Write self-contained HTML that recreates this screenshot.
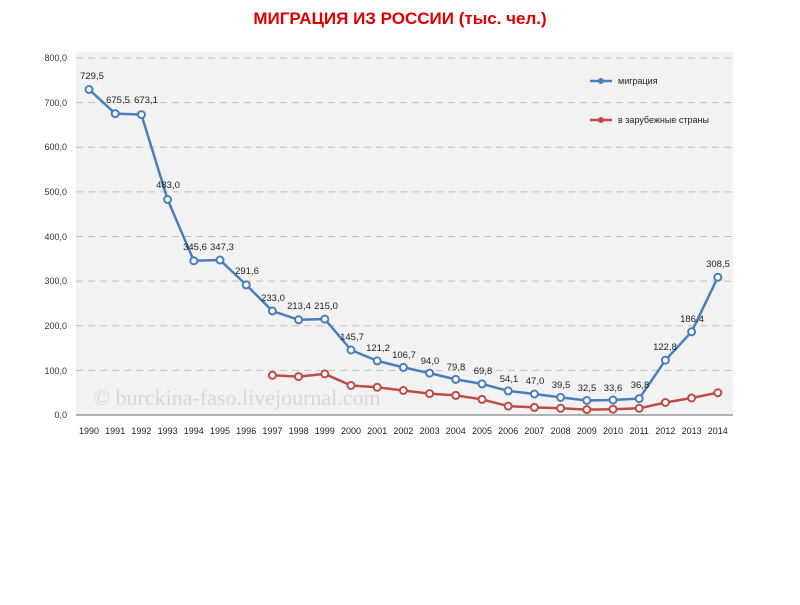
<!DOCTYPE html>
<html><head><meta charset="utf-8"><style>
body{margin:0;background:#fff;width:800px;height:600px;overflow:hidden;font-family:"Liberation Sans",sans-serif}
</style></head><body>
<svg width="800" height="600" xmlns="http://www.w3.org/2000/svg" font-family="Liberation Sans, sans-serif">
<text x="400" y="24" text-anchor="middle" font-size="17" font-weight="bold" fill="#e00000">МИГРАЦИЯ ИЗ РОССИИ (тыс. чел.)</text>
<rect x="76" y="52" width="657" height="363" fill="#f2f2f2"/>
<g stroke="#c0c0c0" stroke-dasharray="7,5" stroke-width="1">
<line x1="76" x2="733" y1="58" y2="58"/><line x1="76" x2="733" y1="102.6" y2="102.6"/>
<line x1="76" x2="733" y1="147.3" y2="147.3"/><line x1="76" x2="733" y1="191.9" y2="191.9"/>
<line x1="76" x2="733" y1="236.5" y2="236.5"/><line x1="76" x2="733" y1="281.1" y2="281.1"/>
<line x1="76" x2="733" y1="325.8" y2="325.8"/><line x1="76" x2="733" y1="370.4" y2="370.4"/>
</g>
<line x1="76" x2="733" y1="415" y2="415" stroke="#999" stroke-width="1.5"/>
<g font-size="9" fill="#333" text-anchor="end">
<text x="67" y="61">800,0</text><text x="67" y="106">700,0</text><text x="67" y="150">600,0</text>
<text x="67" y="195">500,0</text><text x="67" y="240">400,0</text><text x="67" y="284">300,0</text>
<text x="67" y="329">200,0</text><text x="67" y="374">100,0</text><text x="67" y="418">0,0</text>
</g>
<text x="237" y="405" text-anchor="middle" font-family="Liberation Serif, serif" font-size="22" fill="#d8d8d8">© burckina-faso.livejournal.com</text>
<g font-size="9" fill="#222" text-anchor="middle">
<text x="89" y="434">1990</text><text x="115.2" y="434">1991</text><text x="141.4" y="434">1992</text><text x="167.6" y="434">1993</text><text x="193.8" y="434">1994</text><text x="220" y="434">1995</text><text x="246.2" y="434">1996</text><text x="272.4" y="434">1997</text><text x="298.6" y="434">1998</text><text x="324.8" y="434">1999</text><text x="351" y="434">2000</text><text x="377.2" y="434">2001</text><text x="403.4" y="434">2002</text><text x="429.6" y="434">2003</text><text x="455.8" y="434">2004</text><text x="482" y="434">2005</text><text x="508.2" y="434">2006</text><text x="534.4" y="434">2007</text><text x="560.6" y="434">2008</text><text x="586.8" y="434">2009</text><text x="613" y="434">2010</text><text x="639.2" y="434">2011</text><text x="665.4" y="434">2012</text><text x="691.6" y="434">2013</text><text x="717.8" y="434">2014</text>
</g>
<polyline fill="none" stroke="#4a7ebb" stroke-width="2.5" stroke-linejoin="round" points="89,89.5 115.2,113.6 141.4,114.6 167.6,199.5 193.8,260.8 220,260 246.2,284.9 272.4,311 298.6,319.8 324.8,319.1 351,350 377.2,360.9 403.4,367.4 429.6,373.1 455.8,379.4 482,383.9 508.2,390.9 534.4,394 560.6,397.4 586.8,400.5 613,400 639.2,398.6 665.4,360.2 691.6,331.8 717.8,277.3"/>
<g fill="#fff" stroke="#4a7ebb" stroke-width="2">
<circle cx="89" cy="89.5" r="3.5"/><circle cx="115.2" cy="113.6" r="3.5"/><circle cx="141.4" cy="114.6" r="3.5"/><circle cx="167.6" cy="199.5" r="3.5"/><circle cx="193.8" cy="260.8" r="3.5"/><circle cx="220" cy="260" r="3.5"/><circle cx="246.2" cy="284.9" r="3.5"/><circle cx="272.4" cy="311" r="3.5"/><circle cx="298.6" cy="319.8" r="3.5"/><circle cx="324.8" cy="319.1" r="3.5"/><circle cx="351" cy="350" r="3.5"/><circle cx="377.2" cy="360.9" r="3.5"/><circle cx="403.4" cy="367.4" r="3.5"/><circle cx="429.6" cy="373.1" r="3.5"/><circle cx="455.8" cy="379.4" r="3.5"/><circle cx="482" cy="383.9" r="3.5"/><circle cx="508.2" cy="390.9" r="3.5"/><circle cx="534.4" cy="394" r="3.5"/><circle cx="560.6" cy="397.4" r="3.5"/><circle cx="586.8" cy="400.5" r="3.5"/><circle cx="613" cy="400" r="3.5"/><circle cx="639.2" cy="398.6" r="3.5"/><circle cx="665.4" cy="360.2" r="3.5"/><circle cx="691.6" cy="331.8" r="3.5"/><circle cx="717.8" cy="277.3" r="3.5"/>
</g>
<polyline fill="none" stroke="#be4b48" stroke-width="2.5" stroke-linejoin="round" points="272.4,375.3 298.6,376.6 324.8,373.9 351,385.5 377.2,387.3 403.4,390.5 429.6,393.6 455.8,395.4 482,399.4 508.2,406.1 534.4,407.4 560.6,408.3 586.8,409.6 613,409.2 639.2,408.3 665.4,402.5 691.6,398 717.8,392.7"/>
<g fill="#fff" stroke="#be4b48" stroke-width="2">
<circle cx="272.4" cy="375.3" r="3.5"/><circle cx="298.6" cy="376.6" r="3.5"/><circle cx="324.8" cy="373.9" r="3.5"/><circle cx="351" cy="385.5" r="3.5"/><circle cx="377.2" cy="387.3" r="3.5"/><circle cx="403.4" cy="390.5" r="3.5"/><circle cx="429.6" cy="393.6" r="3.5"/><circle cx="455.8" cy="395.4" r="3.5"/><circle cx="482" cy="399.4" r="3.5"/><circle cx="508.2" cy="406.1" r="3.5"/><circle cx="534.4" cy="407.4" r="3.5"/><circle cx="560.6" cy="408.3" r="3.5"/><circle cx="586.8" cy="409.6" r="3.5"/><circle cx="613" cy="409.2" r="3.5"/><circle cx="639.2" cy="408.3" r="3.5"/><circle cx="665.4" cy="402.5" r="3.5"/><circle cx="691.6" cy="398" r="3.5"/><circle cx="717.8" cy="392.7" r="3.5"/>
</g>
<g font-size="9.5" fill="#222" text-anchor="middle">
<text x="92" y="79">729,5</text><text x="118" y="103">675,5</text><text x="146" y="103">673,1</text><text x="168" y="188">483,0</text><text x="195" y="250">345,6</text><text x="222" y="250">347,3</text><text x="247" y="274">291,6</text><text x="273" y="301">233,0</text><text x="299" y="309">213,4</text><text x="326" y="309">215,0</text><text x="352" y="340">145,7</text><text x="378" y="351">121,2</text><text x="404" y="358">106,7</text><text x="430" y="364">94,0</text><text x="456" y="370">79,8</text><text x="483" y="374">69,8</text><text x="509" y="382">54,1</text><text x="535" y="384">47,0</text><text x="561" y="388">39,5</text><text x="587" y="391">32,5</text><text x="613" y="391">33,6</text><text x="640" y="388">36,8</text><text x="665" y="350">122,8</text><text x="692" y="322">186,4</text><text x="718" y="267">308,5</text>
</g>
<line x1="590" x2="612" y1="81" y2="81" stroke="#4a7ebb" stroke-width="2.5"/><circle cx="601" cy="81" r="3" fill="#4a7ebb"/>
<text x="618" y="84" font-size="9" fill="#222">миграция</text>
<line x1="590" x2="612" y1="120" y2="120" stroke="#be4b48" stroke-width="2.5"/><circle cx="601" cy="120" r="3" fill="#be4b48"/>
<text x="618" y="123" font-size="9" fill="#222">в зарубежные страны</text>
</svg>
</body></html>
